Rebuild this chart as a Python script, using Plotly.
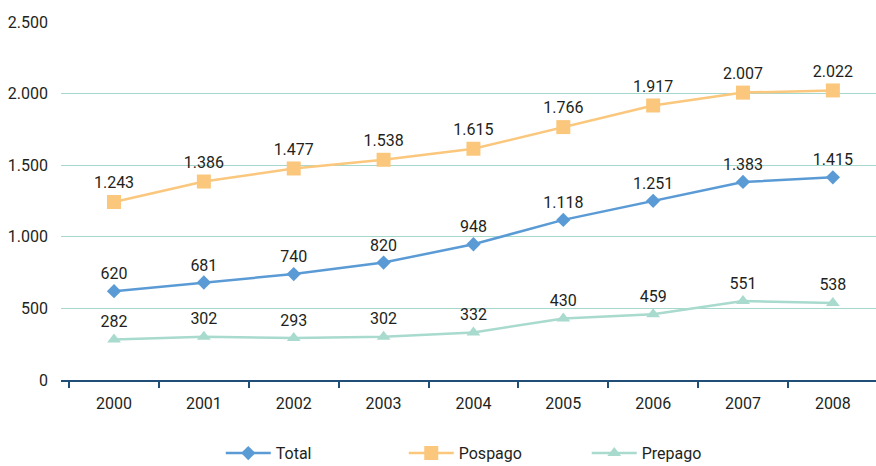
import plotly.graph_objects as go

years = ["2000", "2001", "2002", "2003", "2004", "2005", "2006", "2007", "2008"]
total = [620, 681, 740, 820, 948, 1118, 1251, 1383, 1415]
pospago = [1243, 1386, 1477, 1538, 1615, 1766, 1917, 2007, 2022]
prepago = [282, 302, 293, 302, 332, 430, 459, 551, 538]
y_ticks = [0, 500, 1000, 1500, 2000, 2500]

FONT = "Roboto, Liberation Sans, sans-serif"
TXT = "#231F20"
FS = 16

series = [
    ("Total", total, "#5B9BD5", "diamond", 11),
    ("Pospago", pospago, "#FAC77D", "square", 14),
    ("Prepago", prepago, "#A8DACD", "triangle-up", 12),
]

fig = go.Figure()
for name, vals, color, sym, size in series:
    fig.add_trace(go.Scatter(
        x=years, y=vals, name=name,
        mode="lines+markers+text",
        line=dict(color=color, width=2.5),
        marker=dict(symbol=sym, size=size, color=color),
        texttemplate="%{y:,}", textposition="top center",
        textfont=dict(family=FONT, size=FS, color=TXT),
        cliponaxis=False,
    ))

fig.update_layout(
    width=876, height=466,
    margin=dict(l=61, r=0, t=22, b=86, autoexpand=False),
    paper_bgcolor="white", plot_bgcolor="white",
    separators=",.",
    font=dict(family=FONT, size=FS, color=TXT),
    showlegend=True,
    legend=dict(
        orientation="h", xref="container", yref="container",
        x=0.252, y=0.064, xanchor="left", yanchor="top",
        itemwidth=45,
        entrywidth=123, entrywidthmode="pixels",
        font=dict(family=FONT, size=FS, color=TXT),
        bgcolor="rgba(0,0,0,0)",
    ),
)
fig.update_xaxes(
    type="category", range=[-0.59, 8.48], automargin=False,
    showline=True, linecolor="#1F4E79", linewidth=2,
    ticks="outside", tickson="boundaries", ticklen=6, tickcolor="#1F4E79", tickwidth=2,
    showgrid=False, zeroline=False, ticklabelstandoff=8,
    tickfont=dict(family=FONT, size=FS, color=TXT),
)
fig.update_yaxes(
    range=[0, 2500], tickvals=y_ticks, tickformat=",", automargin=False,
    showgrid=True, gridcolor="#A6D7CD", gridwidth=1,
    zeroline=False, showline=False, ticks="",
    ticklabelstandoff=12,
    tickfont=dict(family=FONT, size=FS, color=TXT),
)

fig.write_html("out.html", config={"displayModeBar": False},
               post_script="document.body.style.margin='0';document.body.style.overflow='hidden';")
